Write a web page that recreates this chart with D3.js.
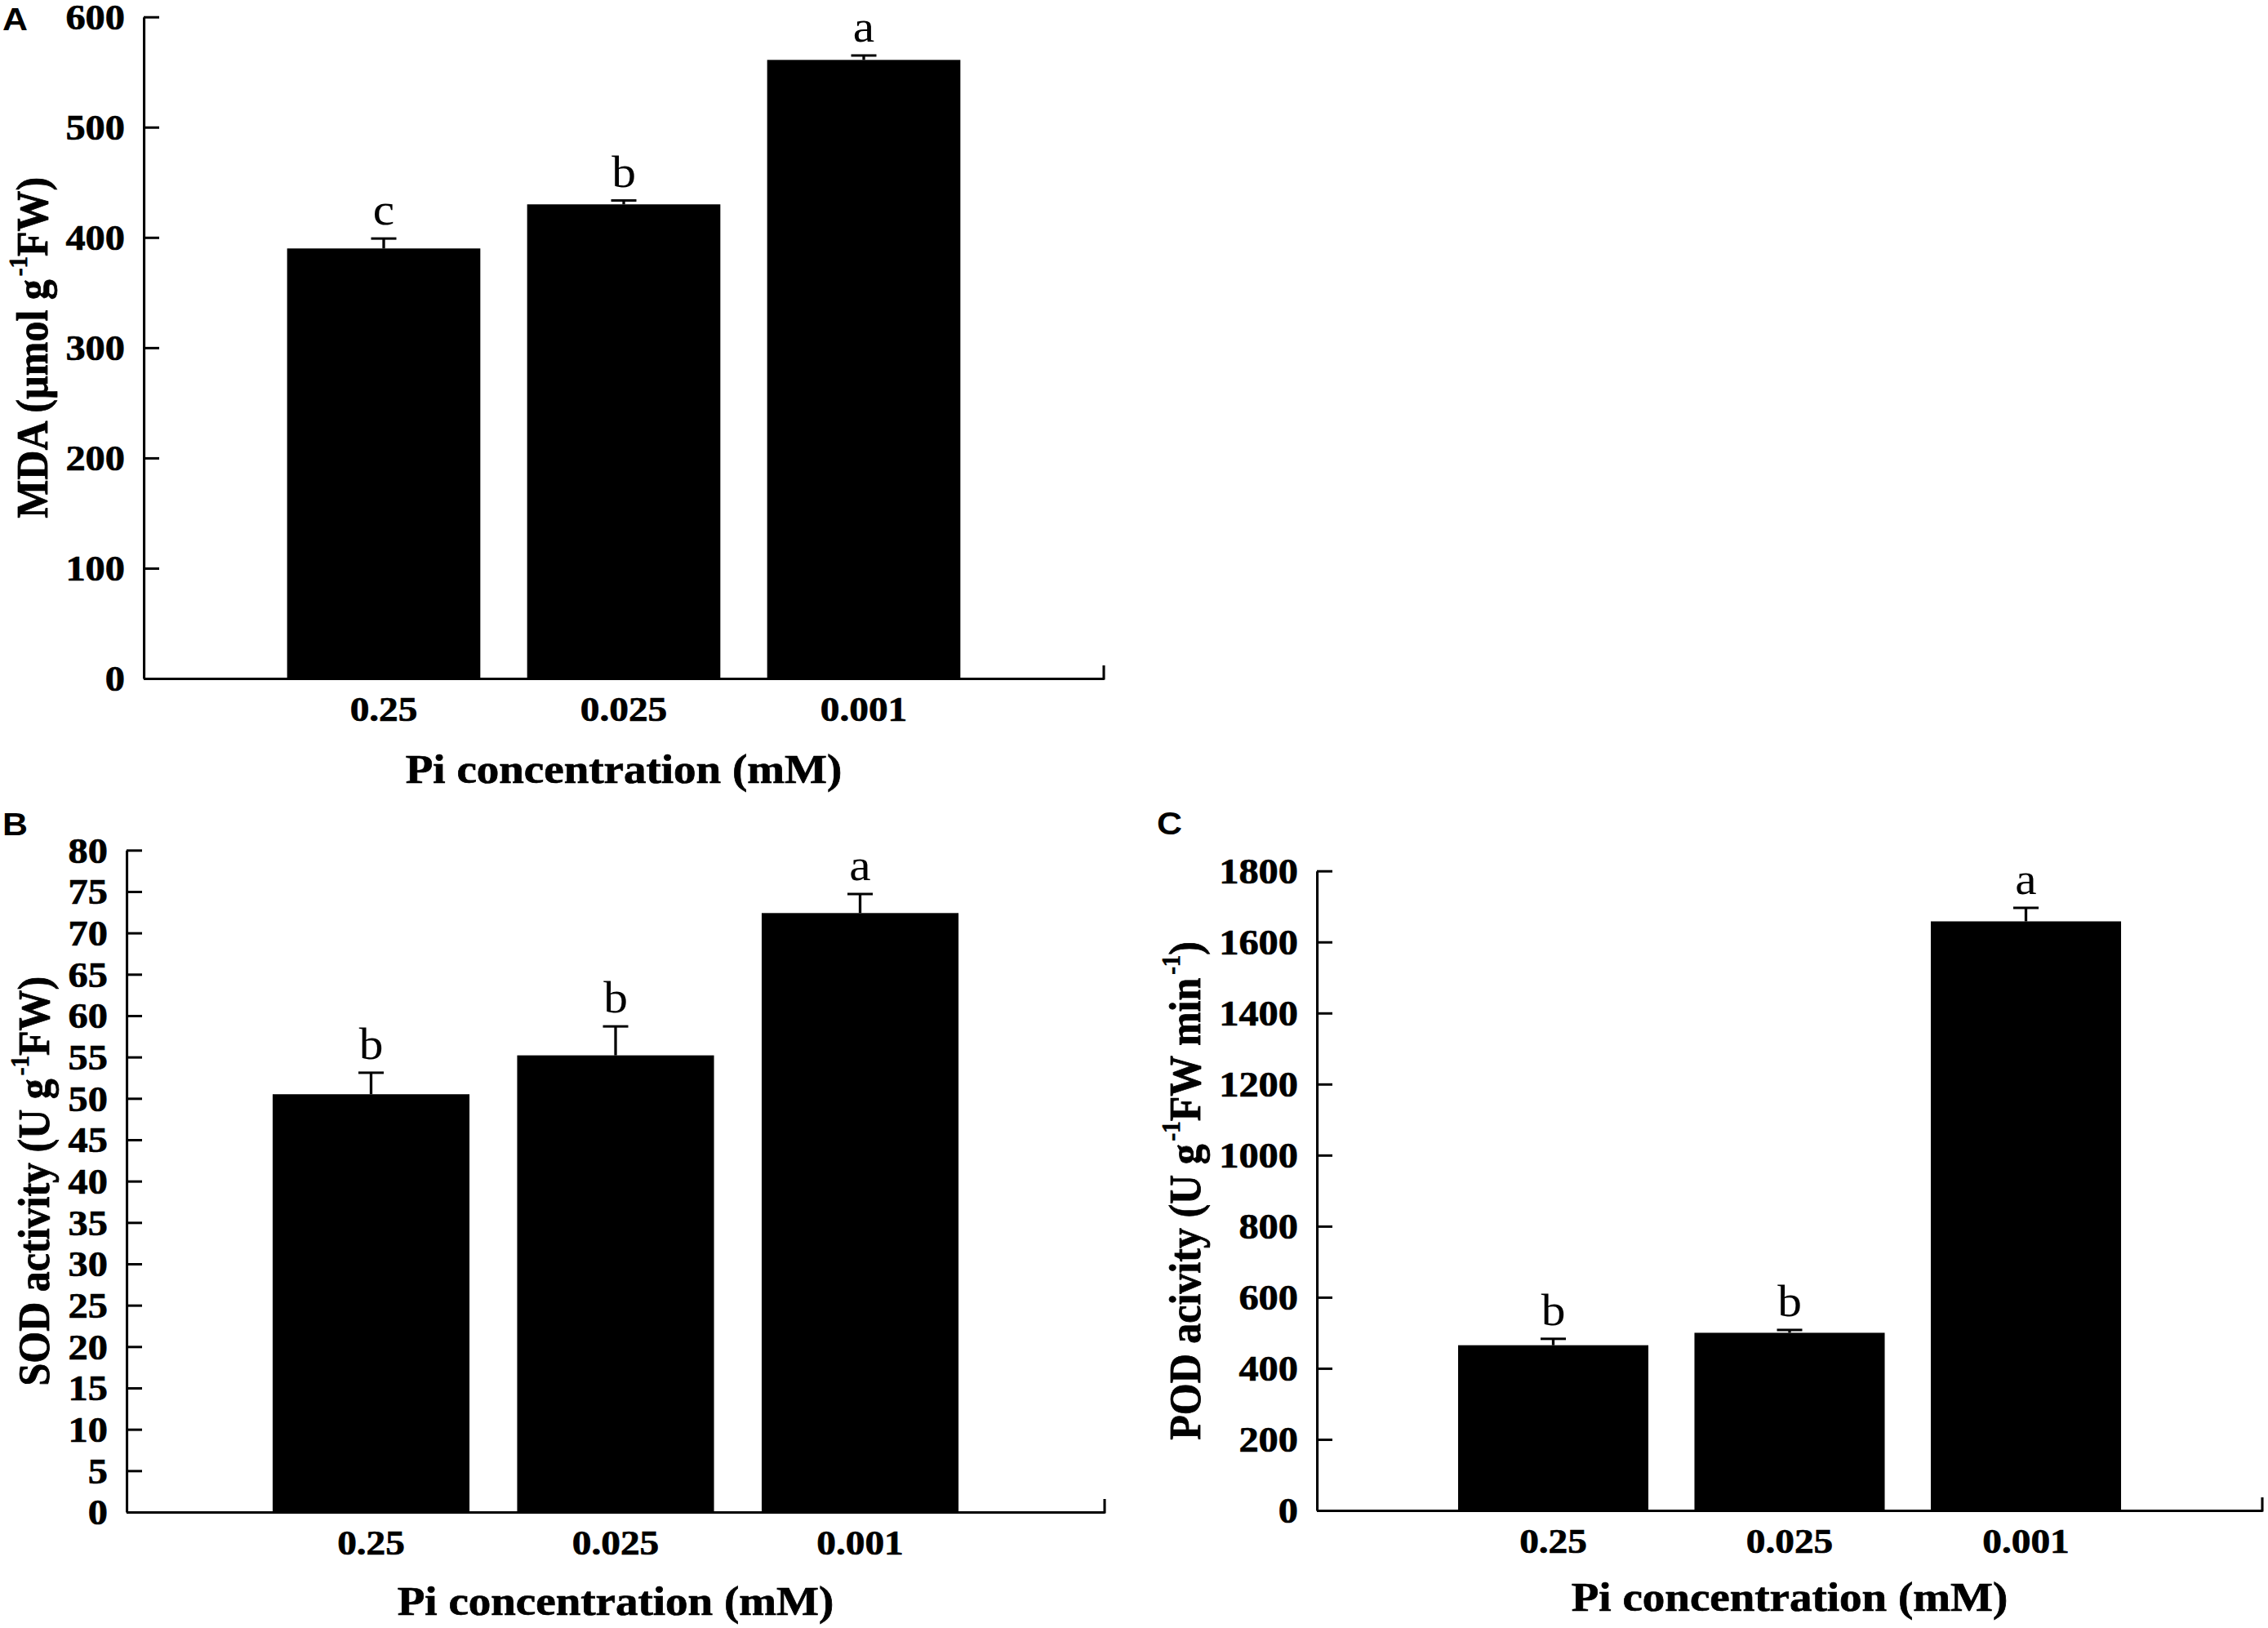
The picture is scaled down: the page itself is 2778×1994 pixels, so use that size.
<!DOCTYPE html>
<html>
<head>
<meta charset="utf-8">
<script src="https://cdn.jsdelivr.net/npm/d3@7"></script>
<style>
  html, body { margin: 0; padding: 0; background: #fff; }
  svg { display: block; }
</style>
</head>
<body>
<script>
// 数据: 三个处理浓度下的 MDA / SOD / POD
const categories = ['0.25', '0.025', '0.001']

const mdaMean = [390, 430, 561]
const mdaErr = [9, 3.5, 4]
const mdaLetters = ['c', 'b', 'a']
const mdaTicks = [0, 100, 200, 300, 400, 500, 600]

const sodMean = [50.5, 55.2, 72.4]
const sodErr = [2.6, 3.5, 2.3]
const sodLetters = ['b', 'b', 'a']
const sodTicks = [0, 5, 10, 15, 20, 25, 30, 35, 40, 45, 50, 55, 60, 65, 70, 75, 80]

const podMean = [465, 500, 1658]
const podErr = [18, 8, 38]
const podLetters = ['b', 'b', 'a']
const podTicks = [0, 200, 400, 600, 800, 1000, 1200, 1400, 1600, 1800]

const xTitle = 'Pi concentration (mM)'

// 原图整体横向略有拉伸, 用 scale(SX,1) 还原
const SX = 1.1
const W = 2778
const H = 1994
const SERIF = "'Liberation Serif', 'Times New Roman', serif"
const SANS = "'Liberation Sans', Arial, sans-serif"
// 粗体字加一点描边, 让字重接近原图
const BOLD_STROKE = 0.7

const panels = [
    {
        label: 'A', labelX: 3, labelY: 37,
        means: mdaMean, errs: mdaErr, letters: mdaLetters, ticks: mdaTicks,
        x0: 176, x1: 1352, yZero: 831, yTop: 20.7,
        titleX: 58, xTitleOffset: 128,
        yTitle: [{ t: 'MDA (µmol g' }, { t: '-1', sup: true }, { t: 'FW)' }],
    },
    {
        label: 'B', labelX: 3, labelY: 1023,
        means: sodMean, errs: sodErr, letters: sodLetters, ticks: sodTicks,
        x0: 155, x1: 1353, yZero: 1852, yTop: 1041.3,
        titleX: 60, xTitleOffset: 126,
        yTitle: [{ t: 'SOD activity (U g' }, { t: '-1', sup: true }, { t: 'FW)' }],
    },
    {
        label: 'C', labelX: 1417, labelY: 1022,
        means: podMean, errs: podErr, letters: podLetters, ticks: podTicks,
        x0: 1613, x1: 2771, yZero: 1850, yTop: 1066.7,
        titleX: 1470, xTitleOffset: 123,
        yTitle: [{ t: 'POD acivity (U g' }, { t: '-1', sup: true }, { t: 'FW min' }, { t: '-1', sup: true }, { t: ')' }],
    },
]

const svg = d3.select('body').append('svg')
    .attr('width', W)
    .attr('height', H)

svg.append('rect')
    .attr('width', W)
    .attr('height', H)
    .attr('fill', '#fff')

const root = svg.append('g').attr('transform', `scale(${SX},1)`)

function boldText(sel, size) {
    return sel
        .attr('font-family', SERIF)
        .attr('font-size', size)
        .attr('font-weight', 'bold')
        .attr('fill', '#000')
        .attr('stroke', '#000')
        .attr('stroke-width', BOLD_STROKE)
}

function drawPanel(p) {
    const g = root.append('g')
    const inner = 0.195

    const x = d3.scaleBand()
        .domain(categories)
        .range([p.x0 / SX, p.x1 / SX])
        .paddingInner(inner)
        .paddingOuter((1 + inner) / 2)

    const y = d3.scaleLinear()
        .domain([0, p.ticks[p.ticks.length - 1]])
        .range([p.yZero, p.yTop])

    const rows = categories.map((c, i) => ({
        cat: c, mean: p.means[i], err: p.errs[i], letter: p.letters[i],
    }))

    // 柱子
    g.selectAll('rect.bar')
        .data(rows)
        .join('rect')
        .attr('class', 'bar')
        .attr('x', d => x(d.cat))
        .attr('width', x.bandwidth())
        .attr('y', d => y(d.mean))
        .attr('height', d => y(0) - y(d.mean))
        .attr('fill', '#000')

    // 误差线 (只画上半部分)
    const cx = d => x(d.cat) + x.bandwidth() / 2
    const capHalf = 15.5 / SX
    const err = g.selectAll('g.err')
        .data(rows)
        .join('g')
        .attr('class', 'err')
        .attr('stroke', '#000')
        .attr('stroke-width', 3)
    err.append('line')
        .attr('x1', cx).attr('x2', cx)
        .attr('y1', d => y(d.mean))
        .attr('y2', d => y(d.mean + d.err))
    err.append('line')
        .attr('x1', d => cx(d) - capHalf)
        .attr('x2', d => cx(d) + capHalf)
        .attr('y1', d => y(d.mean + d.err))
        .attr('y2', d => y(d.mean + d.err))

    // 显著性字母
    g.selectAll('text.letter')
        .data(rows)
        .join('text')
        .attr('class', 'letter')
        .attr('x', cx)
        .attr('y', d => y(d.mean + d.err) - 17)
        .attr('text-anchor', 'middle')
        .attr('font-family', SERIF)
        .attr('font-size', 54)
        .attr('fill', '#000')
        .text(d => d.letter)

    // y轴, 刻度朝内
    g.append('g')
        .attr('transform', `translate(${p.x0 / SX},0)`)
        .call(d3.axisLeft(y)
            .tickValues(p.ticks)
            .tickFormat(d3.format('d'))
            .tickSizeInner(-19 / SX)
            .tickSizeOuter(0)
            .tickPadding(23 / SX))
        .call((a) => {
            a.attr('font-family', null).attr('font-size', null)
            a.select('.domain').attr('stroke', '#000').attr('stroke-width', 2.8)
            a.selectAll('.tick line').attr('stroke', '#000').attr('stroke-width', 3)
            boldText(a.selectAll('.tick text'), 44).attr('dy', '0.34em')
        })

    // x轴
    g.append('g')
        .attr('transform', `translate(0,${p.yZero})`)
        .call(d3.axisBottom(x).tickSize(0).tickSizeOuter(0).tickPadding(21))
        .call((a) => {
            a.attr('font-family', null).attr('font-size', null)
            a.select('.domain').attr('stroke', '#000').attr('stroke-width', 3)
            boldText(a.selectAll('.tick text'), 43)
        })

    // 右端小刻度
    g.append('line')
        .attr('x1', p.x1 / SX).attr('x2', p.x1 / SX)
        .attr('y1', p.yZero + 1.5).attr('y2', p.yZero - 16)
        .attr('stroke', '#000')
        .attr('stroke-width', 2.8)

    // x轴标题
    boldText(g.append('text'), 50)
        .attr('x', (p.x0 + p.x1) / 2 / SX)
        .attr('y', p.yZero + p.xTitleOffset)
        .attr('text-anchor', 'middle')
        .text(xTitle)

    // y轴标题 (带上标)
    const yt = boldText(g.append('text'), 50)
        .attr('transform', `translate(${p.titleX / SX},${(p.yZero + p.yTop) / 2}) rotate(-90)`)
        .attr('text-anchor', 'middle')
    let shifted = false
    p.yTitle.forEach((part) => {
        const ts = yt.append('tspan').text(part.t)
        if (part.sup) {
            ts.attr('font-size', 29).attr('dx', 4).attr('dy', -23)
            shifted = true
        } else if (shifted) {
            ts.attr('dy', 23)
            shifted = false
        }
    })

    // 面板字母
    g.append('text')
        .attr('x', p.labelX / SX)
        .attr('y', p.labelY)
        .attr('font-family', SANS)
        .attr('font-size', 39)
        .attr('font-weight', 'bold')
        .attr('fill', '#000')
        .text(p.label)
}

panels.forEach(drawPanel)
</script>
</body>
</html>
